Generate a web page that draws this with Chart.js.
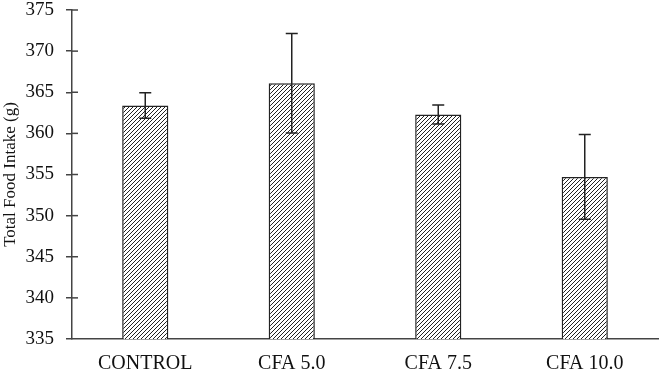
<!DOCTYPE html>
<html>
<head>
<meta charset="utf-8">
<script src="https://cdn.jsdelivr.net/npm/chart.js@4/dist/chart.umd.min.js"></script>
<style>
html,body{margin:0;padding:0;background:#fff;}
#wrap{width:660px;height:371px;position:relative;}
</style>
</head>
<body>
<div id="wrap"><canvas id="c" width="660" height="371"></canvas></div>
<script>
const categories = ["CONTROL", "CFA 5.0", "CFA 7.5", "CFA 10.0"];
const intake = [363.4, 366.1, 362.3, 354.7];
const errors = [1.55, 6.05, 1.15, 5.15];
const yTicks = [335, 340, 345, 350, 355, 360, 365, 370, 375];

function hatch() {
  const s = 4;
  const p = document.createElement('canvas');
  p.width = s; p.height = s;
  const g = p.getContext('2d');
  g.fillStyle = '#fff';
  g.fillRect(0, 0, s, s);
  g.strokeStyle = '#222';
  g.lineWidth = 1;
  g.beginPath();
  g.moveTo(0, s); g.lineTo(s, 0);
  g.moveTo(-1, 1); g.lineTo(1, -1);
  g.moveTo(s - 1, s + 1); g.lineTo(s + 1, s - 1);
  g.stroke();
  return document.getElementById('c').getContext('2d').createPattern(p, 'repeat');
}

const errorBars = {
  id: 'errorBars',
  afterDatasetsDraw(chart) {
    const ctx = chart.ctx;
    const meta = chart.getDatasetMeta(0);
    const ys = chart.scales.y;
    ctx.save();
    ctx.strokeStyle = '#222';
    ctx.lineWidth = 1.5;
    meta.data.forEach((bar, i) => {
      const x = bar.x;
      const hi = ys.getPixelForValue(intake[i] + errors[i]);
      const lo = ys.getPixelForValue(intake[i] - errors[i]);
      ctx.beginPath();
      ctx.moveTo(x, hi); ctx.lineTo(x, lo);
      ctx.moveTo(x - 6, hi); ctx.lineTo(x + 6, hi);
      ctx.moveTo(x - 6, lo); ctx.lineTo(x + 6, lo);
      ctx.stroke();
    });
    ctx.restore();
  }
};

const innerTicks = {
  id: 'innerTicks',
  afterDraw(chart) {
    const ctx = chart.ctx;
    const ys = chart.scales.y;
    const left = chart.chartArea.left;
    ctx.save();
    ctx.strokeStyle = '#444';
    ctx.lineWidth = 1.5;
    yTicks.forEach(v => {
      if (v === yTicks[0]) return;
      const y = ys.getPixelForValue(v);
      ctx.beginPath();
      ctx.moveTo(left, y); ctx.lineTo(left + 6, y);
      ctx.stroke();
    });
    ctx.restore();
  }
};

new Chart(document.getElementById('c'), {
  type: 'bar',
  data: {
    labels: categories,
    datasets: [{
      data: intake,
      backgroundColor: hatch(),
      borderColor: '#222',
      borderWidth: 1.5,
      borderSkipped: false,
      barPercentage: 0.315,
      categoryPercentage: 1.0
    }]
  },
  options: {
    responsive: false,
    animation: false,
    layout: { padding: { top: 10, right: 2, left: 0, bottom: 0 } },
    plugins: { legend: { display: false }, tooltip: { enabled: false } },
    scales: {
      x: {
        afterFit(axis) { axis.height = 32; },
        grid: { display: false, drawTicks: false },
        border: { display: true, color: '#444', width: 1.5 },
        ticks: { color: '#111', font: { family: 'Liberation Serif', size: 20 }, padding: 13 }
      },
      y: {
        min: 335, max: 375,
        afterBuildTicks(axis) { axis.ticks = yTicks.map(v => ({ value: v })); },
        afterFit(axis) { axis.width = 72; axis.paddingTop = 0; axis.paddingBottom = 0; },
        grid: { drawOnChartArea: false, drawTicks: true, tickLength: 6, color: '#444', lineWidth: 1.5 },
        border: { display: true, color: '#444', width: 1.5 },
        ticks: { color: '#111', font: { family: 'Liberation Serif', size: 19 }, padding: 12 },
        title: { display: true, text: 'Total Food Intake (g)', color: '#111', font: { family: 'Liberation Serif', size: 17 }, padding: 0 }
      }
    }
  },
  plugins: [errorBars, innerTicks]
});
</script>
</body>
</html>
